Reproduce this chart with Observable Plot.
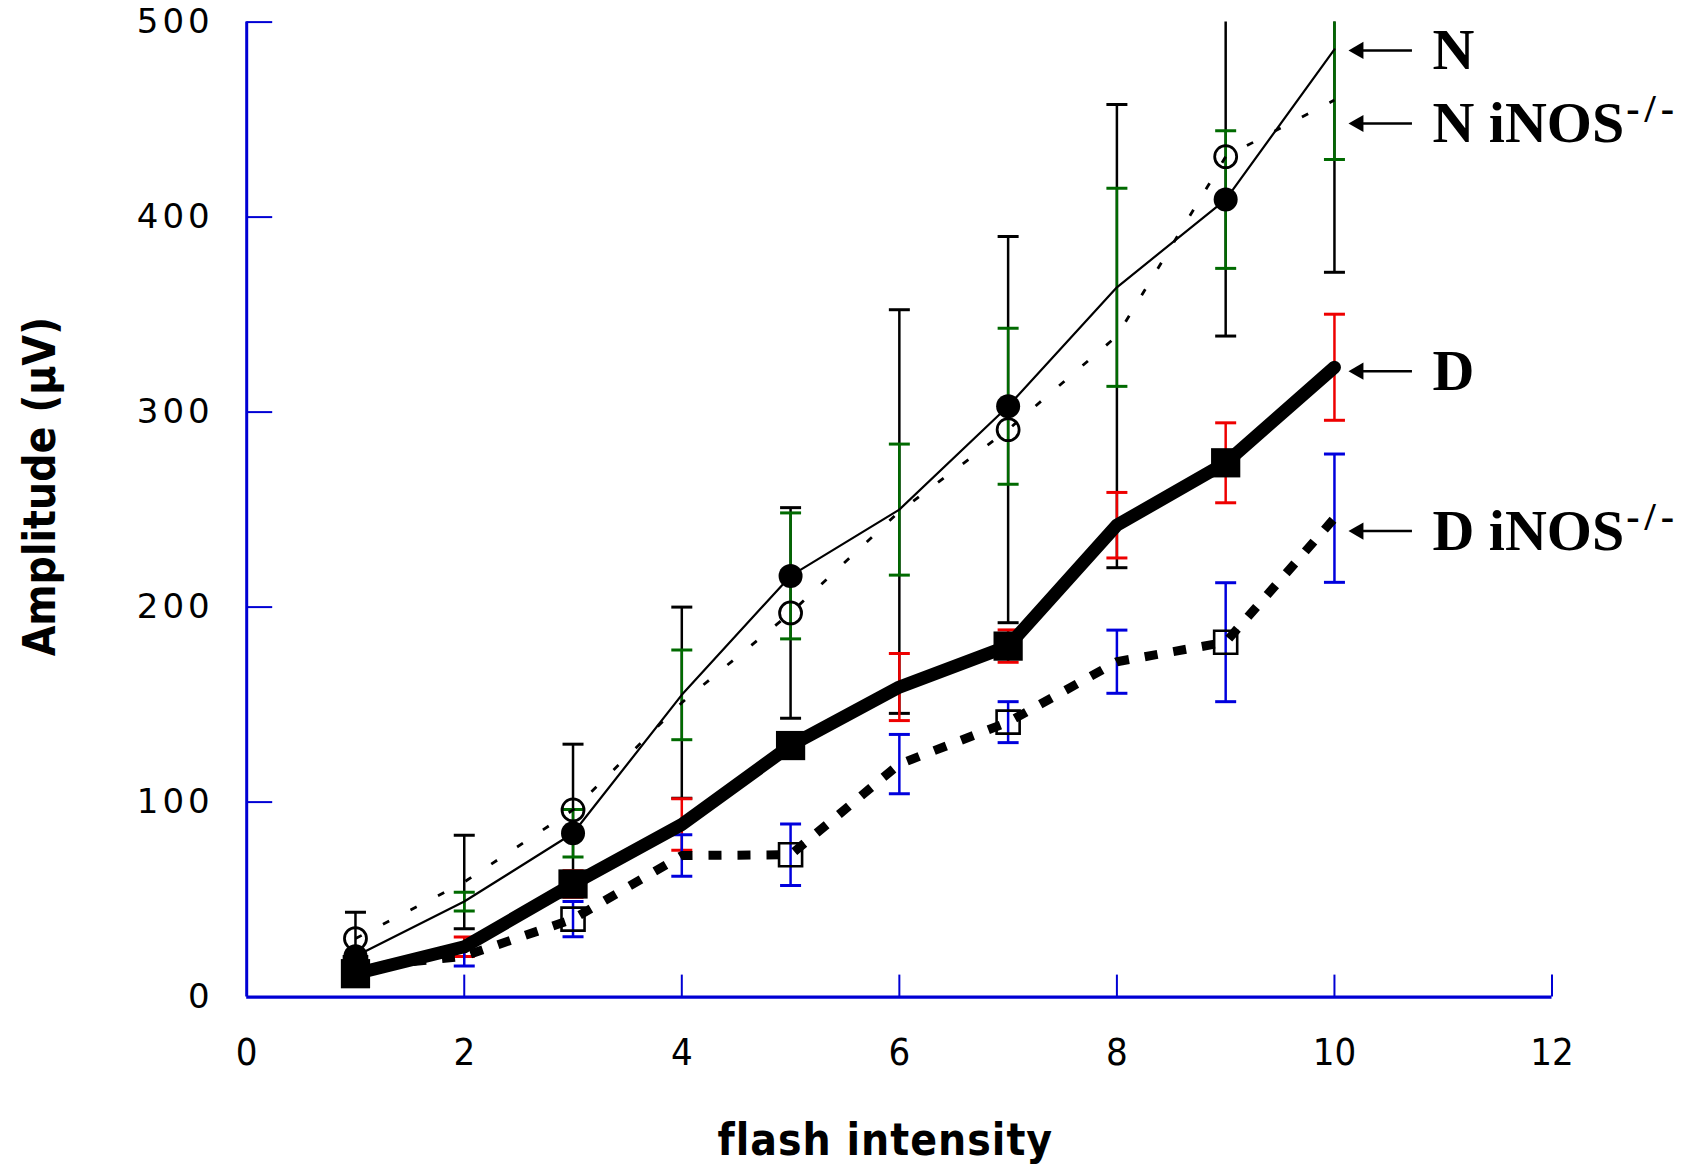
<!DOCTYPE html>
<html>
<head>
<meta charset="utf-8">
<script src="https://cdn.jsdelivr.net/npm/d3@7"></script>
<script src="https://cdn.jsdelivr.net/npm/@observablehq/plot@0.6"></script>
<style>
  html, body { margin: 0; padding: 0; background: #ffffff; }
  #chart svg { display: block; }
  .ytl text { letter-spacing: 4px; }
  .xtitle text { letter-spacing: 1px; }
  .lsup text { letter-spacing: 5px; }
</style>
</head>
<body>
<div id="chart"></div>
<script>
// ---------------- data ----------------
const flashIntensity = [1, 2, 3, 4, 5, 6, 7, 8, 9, 10];
const markerIntensity = [1, 3, 5, 7, 9];

const N          = [21, 49, 84, 155, 216, 250, 303, 364, 409, 486];
const N_err      = [null, 4.8, 12.2, 23, 32.3, 33.6, 40, 50.8, 35.3, 56.5];
const NiNOS      = [30, 59, 96, 151, 197, 249, 291, 339, 431, 460];
const NiNOS_err  = [13.5, 24, 33.7, 49, 54, 103.5, 99, 118.8, 92, 88.3];
const D          = [12, 25.8, 58, 88.5, 129, 159, 180, 242, 274, 323];
const D_err      = [null, 5, 6.8, 13.2, 6.3, 17.2, 8.3, 16.8, 20.5, 27.2];
const DiNOS      = [15, 21, 40, 72.6, 73, 119.5, 141, 172, 182, 245.6];
const DiNOS_err  = [null, 5, 9, 10.6, 15.8, 15.2, 10.5, 16.2, 30.5, 32.9];

const xTicks = [0, 2, 4, 6, 8, 10, 12];
const yTicks = [0, 100, 200, 300, 400, 500];

const seriesLabels = ["N", "N iNOS", "D", "D iNOS"];
const labelSup     = ["", "-/-", "", "-/-"];
const labelValues  = [485.5, 448, 321, 239];

const xTitle = "flash intensity";
const yTitle = "Amplitude (\u00b5V)";

// ---------------- layout / style ----------------
const W = 1693, H = 1165;
const mLeft = 246.2, mRight = 141.5, mTop = 21.6, mBottom = 168.4;
const AXIS = "#0000d4", RED = "#ee0000", GREEN = "#006a00", BLUE = "#0000dd";
const narrow = "'Liberation Sans Narrow', 'Arial Narrow', 'DejaVu Sans Condensed', 'Liberation Sans', sans-serif";
const serif = "'Liberation Serif', 'Times New Roman', serif";
const LABEL_FS = 58, SUP_FS = 40;

const pxPerX = (W - mLeft - mRight) / 12;
const pxPerY = (H - mTop - mBottom) / 500;
const yTickLenData = 26 / pxPerX;   // inward tick length expressed on the x scale
const xTickLenData = 22 / pxPerY;   // inward tick length expressed on the y scale

const rows = (ys, es) => flashIntensity.map((x, i) => ({x, y: ys[i], e: es[i]}));
const sN = rows(N, N_err), sNi = rows(NiNOS, NiNOS_err), sD = rows(D, D_err), sDi = rows(DiNOS, DiNOS_err);
const withErr = s => s.filter(d => d.e != null);
const markers = s => s.filter(d => markerIntensity.includes(d.x));

const cap = {draw(ctx) { ctx.moveTo(-10.5, 0); ctx.lineTo(10.5, 0); }};

function errorBars(s, color, w) {
  const data = withErr(s);
  return [
    Plot.ruleX(data, {x: "x", y1: d => d.y - d.e, y2: d => d.y + d.e, stroke: color, strokeWidth: w, clip: true}),
    Plot.dot(data, {x: "x", y: d => d.y + d.e, symbol: cap, stroke: color, fill: "none", strokeWidth: 3, clip: true}),
    Plot.dot(data, {x: "x", y: d => d.y - d.e, symbol: cap, stroke: color, fill: "none", strokeWidth: 3, clip: true})
  ];
}

// measure label width for the superscript offset
const cv = document.createElement("canvas").getContext("2d");
cv.font = `bold ${LABEL_FS}px ` + serif;
const supOffset = Math.max(cv.measureText("N iNOS").width, cv.measureText("D iNOS").width) + 2;

const lastX = flashIntensity[flashIntensity.length - 1];
const labelRows = seriesLabels.map((t, i) => ({label: t, sup: labelSup[i], v: labelValues[i]}));

const chart = Plot.plot({
  width: W, height: H,
  marginLeft: mLeft, marginRight: mRight, marginTop: mTop, marginBottom: mBottom,
  style: {background: "#ffffff", overflow: "visible"},
  x: {domain: [0, 12], axis: null},
  y: {domain: [0, 500], axis: null},
  marks: [
    // error bars
    ...errorBars(sNi, "#000000", 2.5),
    ...errorBars(sN, GREEN, 2.5),
    ...errorBars(sD, RED, 2.5),
    ...errorBars(sDi, BLUE, 2.5),
    // lines
    Plot.line(sN, {x: "x", y: "y", stroke: "#000", strokeWidth: 2.2}),
    Plot.line(sNi, {x: "x", y: "y", stroke: "#000", strokeWidth: 2.8, strokeDasharray: "7,24", strokeLinecap: "butt"}),
    Plot.line(sDi, {x: "x", y: "y", stroke: "#000", strokeWidth: 9, strokeDasharray: "13,16", strokeLinecap: "butt"}),
    Plot.line(sD, {x: "x", y: "y", stroke: "#000", strokeWidth: 13, strokeLinejoin: "round"}),
    // markers
    Plot.dot(markers(sDi), {x: "x", y: "y", symbol: "square", r: 13, fill: "#fff", fillOpacity: 0, stroke: "#000", strokeWidth: 2.6}),
    Plot.dot(markers(sNi), {x: "x", y: "y", symbol: "circle", r: 11, fill: "none", stroke: "#000", strokeWidth: 2.8}),
    Plot.dot(markers(sN), {x: "x", y: "y", symbol: "circle", r: 12, fill: "#000", stroke: "none"}),
    Plot.dot(markers(sD), {x: "x", y: "y", symbol: "square", r: 16.5, fill: "#000", stroke: "none"}),
    // axes (blue)
    Plot.ruleY(yTicks.slice(1), {y: d => d, x1: 0, x2: yTickLenData, stroke: AXIS, strokeWidth: 2}),
    Plot.ruleX(xTicks.slice(1), {x: d => d, y1: 0, y2: xTickLenData, stroke: AXIS, strokeWidth: 2}),
    Plot.ruleX([0], {y1: 0, y2: 500, stroke: AXIS, strokeWidth: 3}),
    Plot.ruleY([0], {x1: 0, x2: 12, stroke: AXIS, strokeWidth: 3.4}),
    // tick labels
    Plot.text(yTicks, {x: 0, y: d => d, text: d => String(d), dx: -33, textAnchor: "end", lineAnchor: "middle",
      fontSize: 34, fontFamily: "'DejaVu Sans', sans-serif", fill: "#000", className: "ytl"}),
    Plot.text(xTicks, {x: d => d, y: 0, text: d => String(d), dy: 56, textAnchor: "middle", lineAnchor: "middle",
      fontSize: 38, fontFamily: narrow, fill: "#000"}),
    // axis titles
    Plot.text([xTitle], {frameAnchor: "bottom", text: d => d, dx: -14, dy: 144, textAnchor: "middle", lineAnchor: "middle",
      fontSize: 44, fontWeight: "bold", fontFamily: narrow, fill: "#000", className: "xtitle"}),
    Plot.text([yTitle], {frameAnchor: "left", text: d => d, dx: -206, dy: -23, rotate: -90, textAnchor: "middle", lineAnchor: "middle",
      fontSize: 44, fontWeight: "bold", fontFamily: narrow, fill: "#000"}),
    // series labels with arrows
    Plot.ruleY(labelRows, {y: "v", x1: lastX, x2: lastX, insetLeft: 20, insetRight: -78, stroke: "#000", strokeWidth: 2.5}),
    Plot.dot(labelRows, {x: lastX, y: "v", dx: 24, symbol: "triangle", rotate: -90, r: 6.4, fill: "#000", stroke: "none"}),
    Plot.text(labelRows, {x: lastX, y: "v", text: "label", dx: 98, dy: 0, textAnchor: "start", lineAnchor: "middle",
      fontSize: LABEL_FS, fontWeight: "bold", fontFamily: serif, fill: "#000"}),
    Plot.text(labelRows.filter(d => d.sup), {x: lastX, y: "v", text: "sup", dx: 98 + supOffset, dy: -14,
      textAnchor: "start", lineAnchor: "middle", fontSize: SUP_FS, fontWeight: "bold", fontFamily: serif, fill: "#000",
      className: "lsup"})
  ]
});

document.getElementById("chart").appendChild(chart);
</script>
</body>
</html>
